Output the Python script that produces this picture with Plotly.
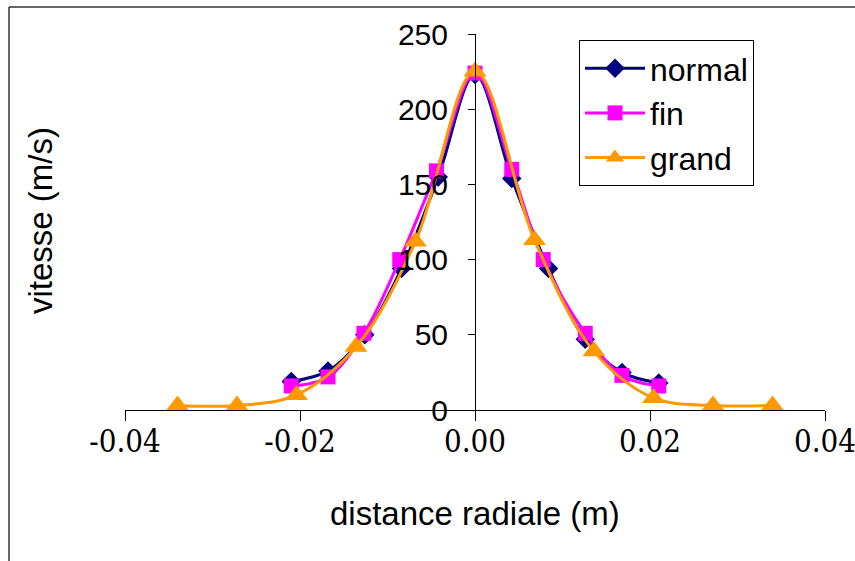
import plotly.graph_objects as go

# Radial velocity profiles for three mesh sizes
normal_x = [-0.021, -0.0168, -0.0126, -0.0084, -0.0042, 0.0, 0.0042, 0.0084, 0.0126, 0.0168, 0.021]
normal_y = [19, 26, 50, 94, 155, 223, 154, 94, 47, 25, 18]

fin_x = [-0.021, -0.0168, -0.0127, -0.0086, -0.0044, 0.0, 0.0042, 0.0078, 0.0126, 0.0168, 0.021]
fin_y = [16, 22, 51, 100, 159, 224, 160, 100, 51, 23, 16]

grand_x = [-0.034, -0.0272, -0.0204, -0.0136, -0.0068, 0.0, 0.0068, 0.0136, 0.0204, 0.0272, 0.034]
grand_y = [3, 3, 10, 42, 112, 225, 113, 39, 8, 3, 3]

x_ticks = [-0.04, -0.02, 0.0, 0.02, 0.04]
x_tick_text = ["-0.04", "-0.02", "0.00", "0.02", "0.04"]
y_ticks = [0, 50, 100, 150, 200, 250]

SANS = "Liberation Sans"
SERIF = "'DejaVu Serif Condensed', 'DejaVu Serif', serif"

fig = go.Figure()

series = [
    ("normal", normal_x, normal_y, "#000080", "diamond", 15),
    ("fin", fin_x, fin_y, "#FF00FF", "square", 15),
    ("grand", grand_x, grand_y, "#FF9900", "triangle-up", 20),
]
for name, xs, ys, color, symbol, size in series:
    fig.add_trace(go.Scatter(
        x=xs, y=ys, name=name, mode="lines+markers",
        line=dict(color=color, width=3, shape="spline", smoothing=1),
        marker=dict(symbol=symbol, size=size, color=color, line=dict(width=0)),
    ))

fig.update_layout(
    width=855, height=561,
    margin=dict(l=125, r=30, t=34, b=151, autoexpand=False),
    paper_bgcolor="white", plot_bgcolor="white",
    font=dict(family=SANS, color="black"),
    showlegend=True,
    legend=dict(
        x=(579 - 125) / 700, y=(410 - 40) / 376, xanchor="left", yanchor="top",
        bordercolor="black", borderwidth=1, bgcolor="white",
        font=dict(family=SANS, size=32, color="black"),
        itemwidth=60,
    ),
    xaxis=dict(
        range=[-0.04, 0.04], tickvals=x_ticks, ticktext=x_tick_text,
        showgrid=False, zeroline=False,
        showline=True, linecolor="black", linewidth=1,
        ticks="outside", ticklen=10, tickcolor="black",
        tickfont=dict(family=SERIF, size=31, color="black"),
        ticklabelstandoff=-6, ticklabeloverflow="allow",
        anchor="y",
    ),
    yaxis=dict(
        range=[0, 250], tickvals=y_ticks,
        showgrid=False, zeroline=False,
        showline=True, linecolor="black", linewidth=1,
        ticks="outside", ticklen=7, tickcolor="black",
        tickfont=dict(family=SANS, size=30, color="black"),
        ticklabelstandoff=14,
        anchor="free", position=0.5,
    ),
    annotations=[
        dict(text="distance radiale (m)", x=0.5, y=(410 - 513) / 376,
             xref="paper", yref="paper", xanchor="center", yanchor="middle",
             showarrow=False, font=dict(family=SANS, size=33, color="black")),
        dict(text="vitesse (m/s)", x=(40 - 125) / 700, y=(410 - 221) / 376,
             xref="paper", yref="paper", xanchor="center", yanchor="middle",
             showarrow=False, textangle=-90,
             font=dict(family=SANS, size=33, color="black")),
    ],
    shapes=[
        dict(type="line", xref="paper", yref="paper",
             x0=(9 - 125) / 700, x1=(9 - 125) / 700,
             y0=(410 - 561) / 376, y1=(410 - 7) / 376,
             line=dict(color="#333333", width=1.5)),
        dict(type="line", xref="paper", yref="paper",
             x0=(9 - 125) / 700, x1=(855 - 125) / 700,
             y0=(410 - 7) / 376, y1=(410 - 7) / 376,
             line=dict(color="#333333", width=1.5)),
    ],
)

fig.write_html("out.html")
